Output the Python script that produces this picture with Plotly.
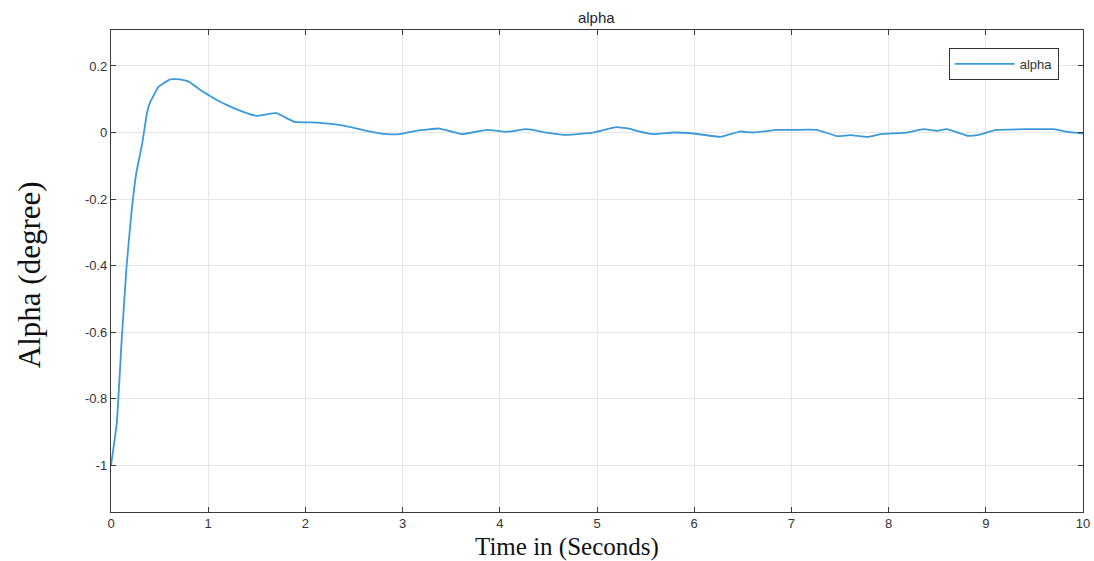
import plotly.graph_objects as go

time_s = [0, 0.06, 0.11, 0.16, 0.21, 0.26, 0.32, 0.37, 0.40, 0.49, 0.61, 0.71, 0.80, 0.92,
          1.02, 1.12, 1.19, 1.36, 1.50, 1.70, 1.89, 2.12, 2.29, 2.49, 2.63, 2.84, 2.97,
          3.15, 3.38, 3.61, 3.87, 4.07, 4.28, 4.48, 4.69, 4.96, 5.20, 5.34, 5.41, 5.58,
          5.78, 5.99, 6.27, 6.47, 6.61, 6.85, 7.02, 7.26, 7.47, 7.61, 7.78, 7.92, 8.19,
          8.36, 8.50, 8.60, 8.82, 8.91, 9.11, 9.42, 9.70, 9.84, 10.0]
alpha = [-1.0, -0.872, -0.623, -0.403, -0.242, -0.122, -0.035, 0.058, 0.089, 0.138, 0.16,
         0.16, 0.153, 0.128, 0.11, 0.093, 0.083, 0.062, 0.050, 0.058, 0.032, 0.03, 0.025,
         0.015, 0.005, -0.005, -0.005, 0.006, 0.012, -0.005, 0.008, 0.002, 0.01, 0.0,
         -0.007, 0.0, 0.016, 0.011, 0.005, -0.005, 0.0, -0.003, -0.013, 0.003, 0.0, 0.008,
         0.008, 0.008, -0.011, -0.008, -0.013, -0.005, 0.0, 0.01, 0.005, 0.01, -0.01,
         -0.008, 0.008, 0.01, 0.01, 0.002, -0.003]

x_ticks = list(range(0, 11))
y_ticks = [-1, -0.8, -0.6, -0.4, -0.2, 0, 0.2]
y_tick_labels = ["-1", "-0.8", "-0.6", "-0.4", "-0.2", "0", "0.2"]

fig = go.Figure()
fig.add_trace(go.Scatter(x=time_s, y=alpha, mode="lines", name="alpha",
                         line=dict(color="#3d9ad8", width=1.8, shape="spline", smoothing=0.3)))

axis_common = dict(showgrid=True, gridcolor="#e6e6e6", gridwidth=1, automargin=False,
                   showline=True, linecolor="#3a3a3a", linewidth=1.2, mirror="ticks",
                   ticks="inside", ticklen=5, tickcolor="#3a3a3a", zeroline=False,
                   tickfont=dict(family="Liberation Sans, Arial", size=13, color="#333333"))

serif = "Liberation Serif, Times New Roman"

fig.update_layout(
    width=1094, height=561,
    margin=dict(l=111, r=11, t=30, b=49),
    paper_bgcolor="white", plot_bgcolor="white",
    title=dict(text="alpha", x=0.545, xanchor="center", y=1 - 18 / 561, yanchor="middle",
               yref="container",
               font=dict(family="Liberation Sans, Arial", size=15, color="#262626")),
    xaxis=dict(range=[0, 10], tickvals=x_ticks, ticklabelstandoff=-1, **axis_common),
    yaxis=dict(range=[-1.14, 0.308], tickvals=y_ticks, ticktext=y_tick_labels, **axis_common),
    legend=dict(x=0.975, y=0.963, xanchor="right", yanchor="top",
                bordercolor="#333333", borderwidth=1, bgcolor="white",
                font=dict(family="Liberation Sans, Arial", size=13, color="#333333"),
                itemwidth=60),
    showlegend=True,
    annotations=[
        dict(text="Time in (Seconds)", xref="paper", yref="paper", x=0.469, y=-0.073,
             xanchor="center", yanchor="middle", showarrow=False,
             font=dict(family=serif, size=25, color="#111111")),
        dict(text="Alpha (degree)", xref="paper", yref="paper", x=-0.083, y=0.492,
             xanchor="center", yanchor="middle", showarrow=False, textangle=-90,
             font=dict(family=serif, size=31, color="#111111")),
    ],
)

fig.write_html("out.html")
